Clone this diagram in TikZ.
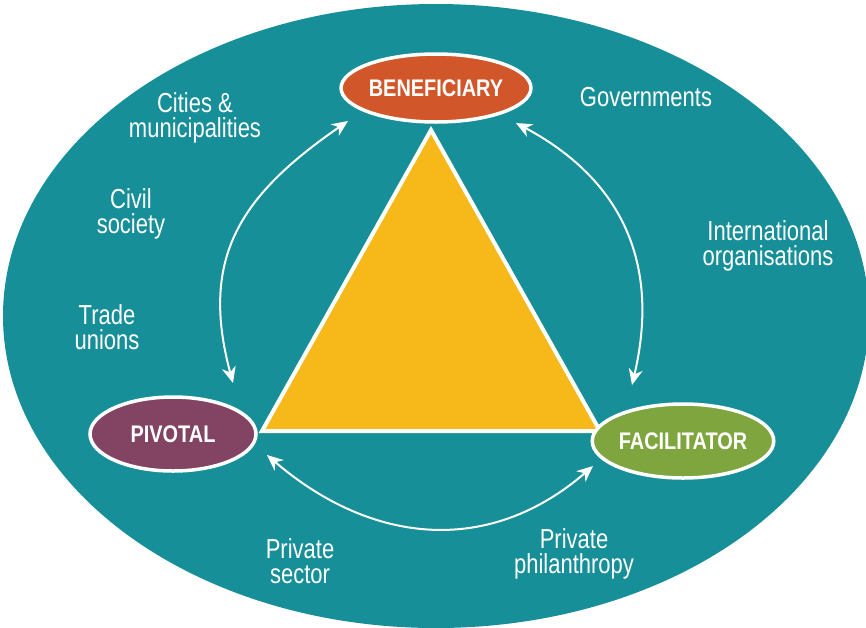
\documentclass[tikz,border=0pt]{standalone}
\usepackage{fontspec}
\setmainfont[FakeStretch=0.8]{Liberation Sans}
\newfontfamily\lblfont[FakeStretch=0.83]{Liberation Sans}
\usetikzlibrary{shapes.geometric,arrows.meta}
\definecolor{teal}{RGB}{22,143,152}
\definecolor{benef}{RGB}{209,87,42}
\definecolor{pivot}{RGB}{130,68,98}
\definecolor{facil}{RGB}{127,165,63}
\definecolor{tri}{RGB}{247,185,25}
\tikzset{
  role/.style={ellipse, draw=white, line width=3.5pt, inner sep=0pt, text=white,
    font=\lblfont\bfseries\fontsize{24}{26}\selectfont},
  actor/.style={text=white, align=center, inner sep=0pt,
    font=\fontsize{27.5}{25}\selectfont},
  flow/.style={draw=white, line width=2pt,
    {Stealth[length=16pt,width=14pt,inset=5pt]}-{Stealth[length=16pt,width=14pt,inset=5pt]}}
}
\begin{document}
\begin{tikzpicture}[x=1pt,y=-1pt]
\useasboundingbox (0,0) rectangle (866,627);
\fill[white] (0,0) rectangle (866,627);
\fill[teal] (436,316) ellipse [x radius=433, y radius=312];
% triangle
\coordinate (ta) at (431,130);
\coordinate (tl) at (262,431);
\coordinate (tr) at (600,431);
\filldraw[fill=tri, draw=white, line width=4pt, line join=miter] (ta) -- (tl) -- (tr) -- cycle;
% role nodes
\node[role, fill=benef, minimum width=165pt, minimum height=68pt] (ben) at (436,88) {BENEFICIARY};
\node[role, fill=pivot, minimum width=166pt, minimum height=74pt] (piv) at (173,434) {PIVOTAL};
\node[role, fill=facil, minimum width=164pt, minimum height=74pt] (fac) at (683,441) {FACILITATOR};
% arrows
\coordinate (l1) at (348,121);
\coordinate (l2) at (233,383);
\coordinate (r1) at (516,123);
\coordinate (r2) at (632,385);
\coordinate (b1) at (267,455);
\coordinate (b2) at (593,466);
\draw[flow] (l1) .. controls (241,195) and (199,257) .. (l2);
\draw[flow] (r1) .. controls (608,172) and (664,249) .. (r2);
\draw[flow] (b1) .. controls (372,545) and (489,556) .. (b2);
% actor labels (anchor = baseline of last line)
\node[actor, anchor=base] (cit) at (195,137) {Cities \&\\municipalities};
\node[actor, anchor=base] (gov) at (646,106) {Governments};
\node[actor, anchor=base] (civ) at (131,233) {Civil\\society};
\node[actor, anchor=base] (int) at (768,265) {International\\organisations};
\node[actor, anchor=base] (tra) at (107,349) {Trade\\unions};
\node[actor, anchor=base] (psec) at (300,583) {Private\\sector};
\node[actor, anchor=base] (phil) at (574,573) {Private\\philanthropy};
\end{tikzpicture}
\end{document}
